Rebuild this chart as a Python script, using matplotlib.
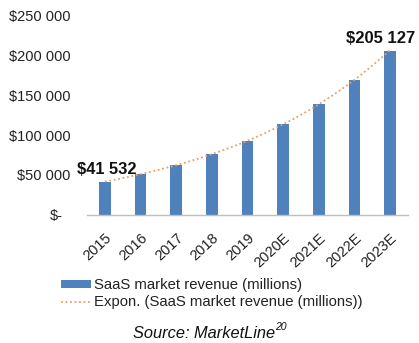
import numpy as np
import matplotlib
matplotlib.use("Agg")
import matplotlib.pyplot as plt
from matplotlib.patches import Patch
from matplotlib.lines import Line2D
from matplotlib.transforms import ScaledTranslation

plt.rcParams["font.family"] = ["Liberation Sans", "DejaVu Sans"]

years = ["2015", "2016", "2017", "2018", "2019", "2020E", "2021E", "2022E", "2023E"]
revenue = [41532, 51000, 62500, 76000, 92500, 114000, 139000, 169000, 205127]
y_ticks = [0, 50000, 100000, 150000, 200000, 250000]

bar_color = "#4F81BD"
trend_color = "#EA9F62"
text_color = "#222222"


def money(v):
    return "$" + f"{v:,}".replace(",", " ") if v else "$-"


fig = plt.figure(figsize=(4.19, 3.43), dpi=100)
ax = fig.add_axes([87 / 419, 1 - 215 / 343, (408 - 87) / 419, 200 / 343])

x = np.arange(len(years))
ax.bar(x, revenue, width=0.33, color=bar_color, zorder=2)

# exponential trendline fitted to the revenue series
b, a = np.polyfit(x, np.log(revenue), 1)
xs = np.linspace(x[0], x[-1], 200)
ax.plot(xs, np.exp(a + b * xs), linestyle=(0, (1, 1.5)), color=trend_color,
        linewidth=1.3, zorder=3)

ax.set_xlim(-0.5, len(years) - 0.5)
ax.set_ylim(0, 250000)
ax.set_xticks(x)
ax.set_xticklabels(years, rotation=43, ha="right", rotation_mode="anchor",
                   fontsize=10.5, color=text_color)
ax.set_yticks(y_ticks)
ax.set_yticklabels([money(v) for v in y_ticks], fontsize=10.5, color=text_color)
ax.tick_params(axis="both", length=0)
ax.tick_params(axis="y", pad=12)
ax.tick_params(axis="x", pad=11.5)
zero_lbl = ax.get_yticklabels()[0]
zero_lbl.set_transform(zero_lbl.get_transform() + ScaledTranslation(-8 / 100, 0, fig.dpi_scale_trans))

for side in ["left", "right", "top"]:
    ax.spines[side].set_visible(False)
ax.spines["bottom"].set_color("#BFBFBF")
ax.spines["bottom"].set_linewidth(1.0)

ax.annotate(money(revenue[0]), (x[0], revenue[0]), xytext=(1.5, 3.5), textcoords="offset points",
            ha="center", va="bottom", fontsize=11.8, fontweight="bold", color="#111111")
ax.annotate(money(revenue[-1]), (x[-1], revenue[-1]), xytext=(-7, 3.5), textcoords="offset points",
            ha="center", va="bottom", fontsize=12, fontweight="bold", color="#111111",
            annotation_clip=False)

handles = [Patch(facecolor=bar_color, edgecolor="none"),
           Line2D([0], [0], linestyle=(0, (1, 1.5)), color=trend_color, linewidth=1.3)]
labels = ["SaaS market revenue (millions)", "Expon. (SaaS market revenue (millions))"]
fig.legend(handles, labels, loc="upper left", bbox_to_anchor=(54 / 419, 1 - 271 / 343),
           frameon=False, fontsize=10.7, handlelength=2.0, handleheight=0.5,
           handletextpad=0.2, labelspacing=0.2, borderpad=0, labelcolor=text_color)

src = fig.text(204 / 419, 1 - 333 / 343, "Source: MarketLine", ha="center", va="center",
               fontsize=11.8, fontstyle="italic", color="#111111")
plt.annotate("20", xy=(1, 0.55), xycoords=src, fontsize=7.5, fontstyle="italic",
             color="#111111", ha="left", va="bottom", annotation_clip=False)

fig.savefig("out.png", dpi=100)
